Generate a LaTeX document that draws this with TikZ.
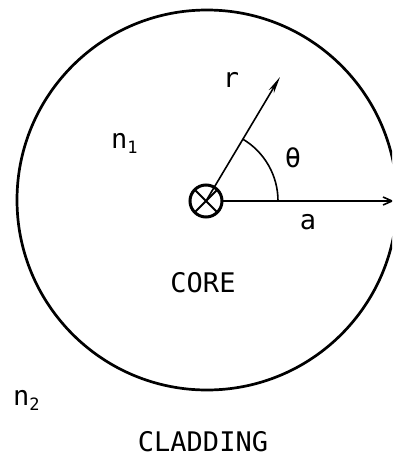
\documentclass[tikz,border=0pt]{standalone}
\usepackage{fontspec}
\newfontfamily\lblfont{DejaVu Sans Mono}
\usetikzlibrary{arrows.meta}
\begin{document}
\begin{tikzpicture}[x=1pt,y=1pt,
  lbl/.style={font=\lblfont\fontsize{27}{32}\selectfont, inner sep=0pt},
  vec/.style={line width=1.6pt},
  subs/.style={}]
\useasboundingbox (0,0) rectangle (392,-455);
\clip (0,0) rectangle (392,-455);
% fibre boundary
\node[circle, draw, line width=2.7pt, minimum size=380pt, inner sep=0pt, outer sep=0pt] (fibre) at (207,-200) {};
% axis symbol
\node[circle, draw, line width=3pt, minimum size=32pt, inner sep=0pt, outer sep=0pt] (o) at (206,-201) {};
\draw[line width=2pt] (o.north west) -- (o.south east) (o.north east) -- (o.south west);
% vectors
\coordinate (rtip) at (280,-77);
\coordinate (atip) at (394,-201);
\draw[vec, -{Stealth[length=17pt,width=6pt]}] (o.center) -- (rtip);
\draw[vec, -{Straight Barb[length=9pt,width=8pt]}] (o.east) -- (atip);
\draw[vec] (278,-201) arc[start angle=0, end angle=59.5, radius=72];
% labels
\node[lbl] (r) at (231,-80) {r};
\node[lbl] (theta) at (293,-158) {θ};
\node[lbl] (a) at (308,-222) {a};
\node[lbl, anchor=base west] (n1) at (111,-148) {n\raisebox{-5pt}{\fontsize{17}{17}\selectfont 1}};
\node[lbl, anchor=base west] (n2) at (13,-405) {n\raisebox{-5pt}{\fontsize{17}{17}\selectfont 2}};
\node[lbl] (corelbl) at (203,-283) {CORE};
\node[lbl] (clad) at (203,-442) {CLADDING};
\end{tikzpicture}
\end{document}
